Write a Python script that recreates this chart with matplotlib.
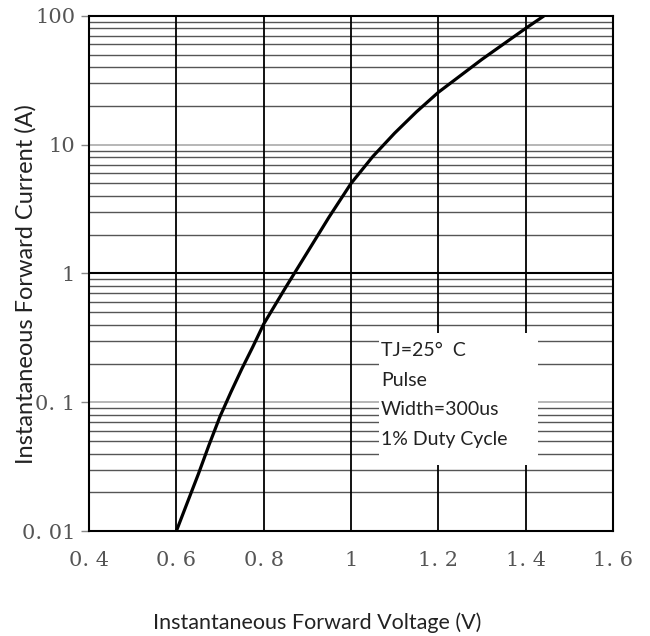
import matplotlib
matplotlib.use("Agg")
import matplotlib.pyplot as plt
from matplotlib.patches import Rectangle

voltage = [0.6, 0.625, 0.65, 0.675, 0.7, 0.725, 0.75, 0.775, 0.8, 0.85, 0.9, 0.95,
           1.0, 1.05, 1.1, 1.15, 1.2, 1.3, 1.4, 1.442]
current = [0.01, 0.0166, 0.0275, 0.0468, 0.0776, 0.12, 0.182, 0.269, 0.405, 0.776, 1.46, 2.75,
           5.0, 8.1, 12.3, 18.0, 25.5, 46, 80, 100]

x_ticks = [0.4, 0.6, 0.8, 1.0, 1.2, 1.4, 1.6]
x_tick_labels = ["0. 4", "0. 6", "0. 8", "1", "1. 2", "1. 4", "1. 6"]
y_ticks = [0.01, 0.1, 1, 10, 100]
y_tick_labels = ["0. 01", "0. 1", "1", "10", "100"]
note_lines = ["TJ=25\u00b0  C", "Pulse", "Width=300us", "1% Duty Cycle"]

fig = plt.figure(figsize=(6.5, 6.36), dpi=100)
ax = fig.add_axes([0.137, 0.165, 0.806, 0.810])
ax.set_yscale("log")
ax.set_xlim(0.4, 1.6)
ax.set_ylim(0.01, 100)

# horizontal minor grid
for dec in [0.01, 0.1, 1, 10]:
    for m in range(2, 10):
        ax.axhline(dec * m, color="#555555", lw=1.0, zorder=1)
for v in [0.1, 10]:
    ax.axhline(v, color="#aaaaaa", lw=1.2, zorder=1)
ax.axhline(1, color="black", lw=1.5, zorder=1)
for xv in x_ticks[1:-1]:
    ax.axvline(xv, color="black", lw=1.3, zorder=1)

ax.add_patch(Rectangle((0.553, 0.128), 0.304, 0.256, transform=ax.transAxes,
                       facecolor="white", edgecolor="none", zorder=2))
ys = [0.351, 0.293, 0.235, 0.177]
for t, yy in zip(note_lines, ys):
    ax.text(0.557, yy, t, transform=ax.transAxes, fontsize=14, family="Lato",
            color="#222222", va="center", ha="left", zorder=3)

ax.plot(voltage, current, color="black", lw=2.3, zorder=4,
        solid_capstyle="butt", solid_joinstyle="round")

ax.set_xticks(x_ticks)
ax.set_xticklabels(x_tick_labels)
ax.set_yticks(y_ticks)
ax.set_yticklabels(y_tick_labels)
ax.yaxis.set_minor_locator(matplotlib.ticker.NullLocator())
ax.tick_params(axis="x", length=0, pad=14, labelsize=15, labelcolor="#555555")
ax.tick_params(axis="y", length=6, width=1, color="#888888", pad=4, labelsize=15, labelcolor="#555555")
for lab in ax.get_xticklabels() + ax.get_yticklabels():
    lab.set_family("DejaVu Serif")
for s in ax.spines.values():
    s.set_linewidth(1.5)
    s.set_color("black")
    s.set_zorder(5)

ax.set_xlabel("Instantaneous Forward Voltage (V)", fontsize=15.5, family="Lato",
              color="#222222")
ax.xaxis.set_label_coords(0.435, -0.157)
ax.set_ylabel("Instantaneous Forward Current (A)", fontsize=17, family="Lato",
              color="#222222")
ax.yaxis.set_label_coords(-0.10, 0.48)

fig.savefig("out.png", dpi=100)
